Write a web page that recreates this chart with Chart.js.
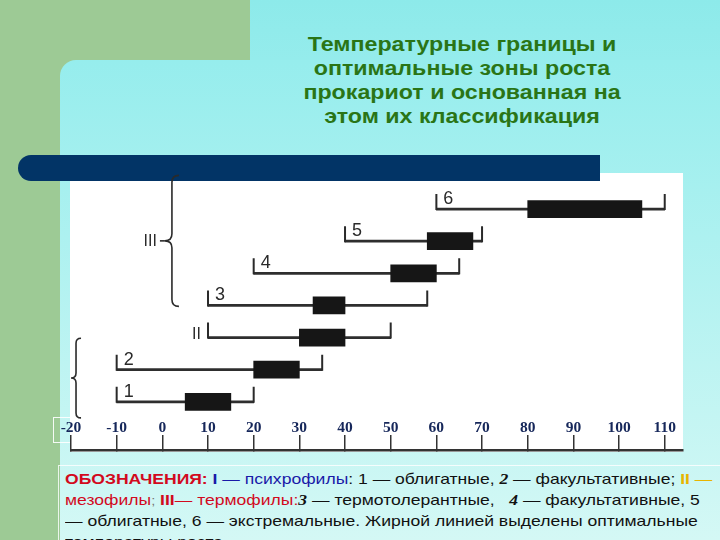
<!DOCTYPE html>
<html lang="ru">
<head>
<meta charset="utf-8">
<title>Температурные границы роста прокариот</title>
<script src="https://cdn.jsdelivr.net/npm/chart.js@4.4.1/dist/chart.umd.min.js"></script>
<style>
  html, body { margin: 0; padding: 0; }
  body { width: 720px; height: 540px; position: relative; overflow: hidden; background: #9dca95; font-family: "Liberation Sans", Arial, sans-serif; }
  .cyan-top { position: absolute; left: 250px; top: 0; width: 470px; height: 60px; background: linear-gradient(#8deaea, #95ecec); }
  .cyan { position: absolute; left: 60px; top: 60px; width: 660px; height: 480px; border-top-left-radius: 16px; background: linear-gradient(#96eded, #d4f8f5); }
  .title { position: absolute; left: 262px; top: 32px; width: 400px; text-align: center; color: #2a7516; font-weight: bold; font-size: 19.5px; line-height: 24px; transform: scaleX(1.19); transform-origin: 50% 0; white-space: nowrap; }
  .navy { position: absolute; left: 18px; top: 155px; width: 582px; height: 26px; border-radius: 13px 0 0 13px; background: #023466; }
  .paper { position: absolute; left: 70px; top: 173px; width: 613px; height: 279px; background: #fff; }
  .tickbox { position: absolute; left: 53px; top: 417px; width: 19px; height: 24px; border: 1px solid rgba(255,255,255,0.9); }
  .legend { position: absolute; left: 58px; top: 465px; width: 662px; height: 90px; border-top: 1px solid rgba(255,255,255,0.8); border-left: 1px solid rgba(255,255,255,0.8); }
  .legend-text { position: absolute; left: 6px; top: 3px; font-size: 15px; line-height: 20.5px; color: #111; white-space: nowrap; transform: scaleX(1.17); transform-origin: 0 0; }
  .red { color: #d20a1e; }
  .blue { color: #1a1aa8; }
  .yellow { color: #e8b400; }
  .num { font-family: "Liberation Serif", serif; font-style: italic; font-weight: bold; }
  canvas { position: absolute; left: 0; top: 0; }
</style>
</head>
<body>
<div class="cyan-top"></div>
<div class="cyan"></div>
<div class="title">Температурные границы и<br>оптимальные зоны роста<br>прокариот и основанная на<br>этом их классификация</div>
<div class="paper"></div>
<div class="navy"></div>
<div class="tickbox"></div>
<div class="legend">
  <div class="legend-text"><b class="red">ОБОЗНАЧЕНИЯ:</b> <span class="blue"><b>I</b> — психрофилы</span>: 1 — облигатные, <span class="num">2</span> — факультативные; <span class="yellow"><b>II</b> —</span><br><span class="red">мезофилы</span><small style="color:#777">;</small> <span class="red"><b>III</b>— термофилы:</span><span class="num">3</span> — термотолерантные, &nbsp;&nbsp;<span class="num">4</span> — факультативные, 5<br>— облигатные, 6 — экстремальные. Жирной линией выделены оптимальные<br>температуры роста</div>
</div>
<canvas id="chart" width="720" height="540"></canvas>
<script>
// rows from top to bottom, the empty last row holds the scale labels
var rows = ['6', '5', '4', '3', 'II', '2', '1', ''];
var rangeLow = [60, 40, 20, 10, 10, -10, -10, null];
var rangeHigh = [110, 70, 65, 58, 50, 35, 20, null];
var optLow = [80, 58, 50, 33, 30, 20, 5, null];
var optHigh = [105, 68, 60, 40, 40, 30, 15, null];
var xTicks = [-20, -10, 0, 10, 20, 30, 40, 50, 60, 70, 80, 90, 100, 110];

function pairs(lo, hi) {
    return lo.map(function(v, i) { return v === null ? null : [v, hi[i]]; });
}

function brace(ctx, x, top, bottom, w) {
    var mid = (top + bottom) / 2;
    ctx.beginPath();
    ctx.moveTo(x + w, top);
    ctx.quadraticCurveTo(x, top, x, top + w);
    ctx.lineTo(x, mid - w);
    ctx.quadraticCurveTo(x, mid, x - w, mid);
    ctx.quadraticCurveTo(x, mid, x, mid + w);
    ctx.lineTo(x, bottom - w);
    ctx.quadraticCurveTo(x, bottom, x + w, bottom);
    ctx.stroke();
}

var marks = {
    id: 'marks',
    afterDatasetsDraw: function(chart) {
        var ctx = chart.ctx;
        var xs = chart.scales.x, ys = chart.scales.y;
        var meta = chart.getDatasetMeta(1);
        ctx.save();
        ctx.strokeStyle = '#2a2a2a';
        ctx.fillStyle = '#2a2a2a';
        ctx.lineWidth = 2;
        meta.data.forEach(function(bar, i) {
            if (rangeLow[i] === null) return;
            var x0 = xs.getPixelForValue(rangeLow[i]);
            var x1 = xs.getPixelForValue(rangeHigh[i]);
            ctx.beginPath();
            ctx.moveTo(x0, bar.y + 1); ctx.lineTo(x0, bar.y - 15);
            ctx.moveTo(x1, bar.y + 1); ctx.lineTo(x1, bar.y - 15);
            ctx.stroke();
            if (rows[i] === 'II') {
                ctx.font = '16px "Liberation Sans Narrow", "Liberation Sans", sans-serif';
                ctx.textAlign = 'right';
                ctx.fillText(rows[i], x0 - 7, bar.y + 1);
            } else {
                ctx.font = '18px "Liberation Sans Narrow", "Liberation Sans", sans-serif';
                ctx.textAlign = 'left';
                ctx.fillText(rows[i], x0 + 7, bar.y - 5);
            }
        });
        // group braces
        ctx.lineWidth = 1.6;
        var top3 = ys.getPixelForValue(-1.05), bot3 = ys.getPixelForValue(3.03);
        var bx3 = xs.getPixelForValue(2.1);
        brace(ctx, bx3, top3, bot3, 7);
        var midY = (top3 + bot3) / 2;
        ctx.beginPath();
        ctx.moveTo(bx3 - 12, midY); ctx.lineTo(bx3 - 7, midY);
        ctx.stroke();
        ctx.font = '16px "Liberation Sans Narrow", "Liberation Sans", sans-serif';
        ctx.textAlign = 'right';
        ctx.textBaseline = 'middle';
        ctx.fillText('III', bx3 - 15, midY + 1);
        var top1 = ys.getPixelForValue(4.02), bot1 = ys.getPixelForValue(6.5);
        brace(ctx, xs.getPixelForValue(-18.9), top1, bot1, 5);
        ctx.restore();
    }
};

new Chart(document.getElementById('chart'), {
    type: 'bar',
    data: {
        labels: rows,
        datasets: [{
            label: 'оптимум',
            data: pairs(optLow, optHigh),
            backgroundColor: '#161616',
            barThickness: 17,
            grouped: false
        }, {
            label: 'границы роста',
            data: pairs(rangeLow, rangeHigh),
            backgroundColor: '#2e2e2e',
            barThickness: 2,
            grouped: false
        }]
    },
    options: {
        indexAxis: 'y',
        responsive: false,
        animation: false,
        devicePixelRatio: 1,
        layout: { padding: { left: 71, right: 37, top: 193, bottom: 90 } },
        plugins: { legend: { display: false }, tooltip: { enabled: false } },
        scales: {
            x: {
                type: 'linear',
                min: -20,
                max: 114,
                afterBuildTicks: function(scale) {
                    scale.ticks = xTicks.map(function(v) { return { value: v }; });
                },
                afterFit: function(scale) { scale.height = 0; },
                grid: { drawOnChartArea: false, drawTicks: true, tickLength: -15, color: '#333', lineWidth: 1.5 },
                border: { display: true, color: '#333', width: 2.5 },
                ticks: {
                    mirror: true,
                    padding: 13,
                    autoSkip: false,
                    maxRotation: 0,
                    color: '#16275a',
                    font: { family: '"Liberation Serif", serif', weight: 'bold', size: 15.5 }
                }
            },
            y: { type: 'category', display: false }
        }
    },
    plugins: [marks]
});
</script>
</body>
</html>
